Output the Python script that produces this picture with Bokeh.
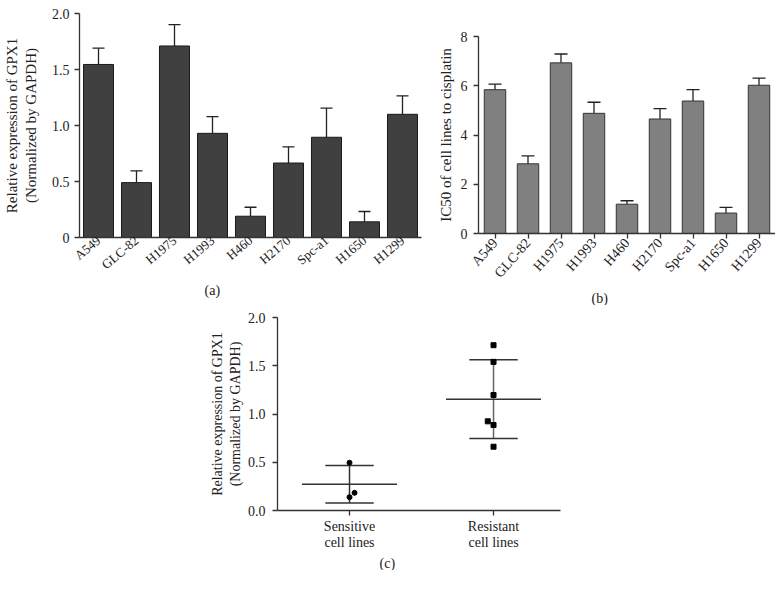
from bokeh.plotting import figure
from bokeh.models import (FactorRange, Range1d, Whisker, TeeHead, ColumnDataSource, Title,
                          FixedTicker, Spacer, NumeralTickFormatter)
from bokeh.layouts import row, column
from bokeh.embed import file_html
from bokeh.resources import INLINE
import numpy as np

FONT = "Liberation Serif"

cells = ["A549", "GLC-82", "H1975", "H1993", "H460", "H2170", "Spc-a1", "H1650", "H1299"]
gpx1 = [1.545, 0.49, 1.71, 0.93, 0.19, 0.665, 0.895, 0.14, 1.10]
gpx1_err_top = [1.69, 0.595, 1.90, 1.08, 0.27, 0.81, 1.155, 0.232, 1.265]
ic50 = [5.84, 2.83, 6.93, 4.88, 1.19, 4.65, 5.38, 0.83, 6.02]
ic50_err_top = [6.07, 3.15, 7.29, 5.33, 1.33, 5.07, 5.84, 1.06, 6.31]

groups = ["Sensitive\ncell lines", "Resistant\ncell lines"]
sensitive_vals = [0.495, 0.183, 0.138]
sensitive_jitter = [0.0, 0.035, 0.0]
resistant_vals = [1.713, 1.54, 1.197, 0.924, 0.886, 0.661]
resistant_jitter = [0.0, 0.0, 0.0, -0.04, 0.0, 0.0]

AX = "#333333"
TXT = "#222222"

def style(p, fs="14px"):
    p.outline_line_color = None
    p.xgrid.grid_line_color = None
    p.ygrid.grid_line_color = None
    for ax in (p.xaxis[0], p.yaxis[0]):
        ax.axis_line_color = AX
        ax.axis_line_width = 1.3
        ax.major_tick_line_color = AX
        ax.major_tick_line_width = 1.3
        ax.minor_tick_line_color = None
        ax.major_tick_out = 5
        ax.major_tick_in = 0
        ax.major_label_text_font = FONT
        ax.major_label_text_font_size = fs
        ax.major_label_text_color = TXT
        ax.major_label_standoff = 5
        ax.axis_label_text_font = FONT
        ax.axis_label_text_font_style = "normal"
        ax.axis_label_text_color = TXT
    p.background_fill_color = None
    p.border_fill_color = None

def panel_title(p, text, offset, standoff):
    p.add_layout(Title(text=text, align="left", offset=offset, standoff=standoff,
                       text_font=FONT, text_font_size="14px", text_font_style="normal",
                       text_color=TXT), "below")

common = dict(output_backend="svg", toolbar_location=None, tools="")

# ---------- Panel (a)
pa = figure(x_range=FactorRange(*cells, range_padding=0), y_range=Range1d(0, 2.0),
            frame_width=342, frame_height=224, min_border_left=73, min_border_right=13,
            min_border_top=12, min_border_bottom=66, **common)
style(pa)
src_a = ColumnDataSource(dict(x=cells, top=gpx1, up=gpx1_err_top))
pa.add_layout(Whisker(source=src_a, base="x", lower="top", upper="up", dimension="height",
                      line_color=TXT, line_width=1.3,
                      upper_head=TeeHead(size=12, line_color=TXT, line_width=1.3),
                      lower_head=None))
pa.vbar(x="x", top="top", width=0.79, source=src_a, fill_color="#404040", line_color="#1a1a1a", line_width=1)
pa.yaxis.ticker = FixedTicker(ticks=[0, 0.5, 1.0, 1.5, 2.0])
pa.yaxis.formatter = NumeralTickFormatter(format="0.0")
pa.yaxis.major_label_overrides = {0: "0"}
pa.yaxis.axis_label = "Relative expression of GPX1\n(Normalized by GAPDH)"
pa.yaxis.axis_label_text_font_size = "15px"
pa.yaxis.axis_label_standoff = 10
pa.xaxis.major_tick_out = 0
pa.xaxis.major_tick_line_color = None
pa.xaxis.major_label_orientation = 0.7
pa.xaxis.major_label_standoff = 1
pa.xaxis.major_label_text_font_size = "13px"
panel_title(pa, "(a)", 125, 0)

# ---------- Panel (b)
pb = figure(x_range=FactorRange(*cells, range_padding=0), y_range=Range1d(0, 8),
            frame_width=297, frame_height=197, min_border_left=42, min_border_right=0,
            min_border_top=35, min_border_bottom=70, **common)
style(pb)
src_b = ColumnDataSource(dict(x=cells, top=ic50, up=ic50_err_top))
pb.add_layout(Whisker(source=src_b, base="x", lower="top", upper="up", dimension="height",
                      line_color=TXT, line_width=1.3,
                      upper_head=TeeHead(size=13, line_color=TXT, line_width=1.3),
                      lower_head=None))
pb.vbar(x="x", top="top", width=0.65, source=src_b, fill_color="#808080", line_color="#333333", line_width=1)
pb.yaxis.ticker = FixedTicker(ticks=[0, 2, 4, 6, 8])
pb.yaxis.axis_label = "IC50 of cell lines to cisplatin"
pb.yaxis.axis_label_text_font_size = "15px"
pb.yaxis.axis_label_standoff = 4
pb.yaxis.major_label_standoff = 6
pb.xaxis.major_label_orientation = 0.85
pb.xaxis.major_label_standoff = 2
panel_title(pb, "(b)", 113, 0)

# ---------- Panel (c)
pc = figure(x_range=Range1d(-0.5, 1.465), y_range=Range1d(0, 2.0),
            frame_width=283, frame_height=193, min_border_left=87, min_border_right=10,
            min_border_top=12, min_border_bottom=60, **common)
style(pc)
pc.yaxis.ticker = FixedTicker(ticks=[0, 0.5, 1.0, 1.5, 2.0])
pc.yaxis.formatter = NumeralTickFormatter(format="0.0")
pc.yaxis.axis_label = "Relative expression of GPX1\n(Normalized by GAPDH)"
pc.yaxis.axis_label_text_font_size = "14px"
pc.yaxis.axis_label_standoff = 2
pc.yaxis.major_label_standoff = 7
pc.xaxis.ticker = FixedTicker(ticks=[0, 1])
pc.xaxis.major_label_overrides = {0: groups[0], 1: groups[1]}
pc.xaxis.major_label_standoff = 3
pc.xaxis.major_label_text_line_height = 1.1

for gx, vals, col in ((0, sensitive_vals, "#333333"), (1, resistant_vals, "#666666")):
    arr = np.array(vals)
    m = arr.mean()
    s = arr.std(ddof=1)
    pc.segment(x0=[gx], y0=[m - s], x1=[gx], y1=[m + s], line_color=col, line_width=1.5)
    pc.segment(x0=[gx - 0.33], y0=[m], x1=[gx + 0.33], y1=[m], line_color="#333333", line_width=1.5)
    pc.segment(x0=[gx - 0.168, gx - 0.168], y0=[m - s, m + s], x1=[gx + 0.168, gx + 0.168],
               y1=[m - s, m + s], line_color="#333333", line_width=1.5)

pc.scatter(x=[0 + j for j in sensitive_jitter], y=sensitive_vals, marker="circle", size=5,
           fill_color="black", line_color="black")
pc.scatter(x=[1 + j for j in resistant_jitter], y=resistant_vals, marker="square", size=5,
           fill_color="black", line_color="black")
panel_title(pc, "(c)", 102, 0)

top = row(column(Spacer(width=1, height=1), pa), column(Spacer(width=1, height=1), pb))
layout = column(top, row(Spacer(width=190, height=5), pc))
open("out.html", "w").write(file_html(layout, INLINE))
